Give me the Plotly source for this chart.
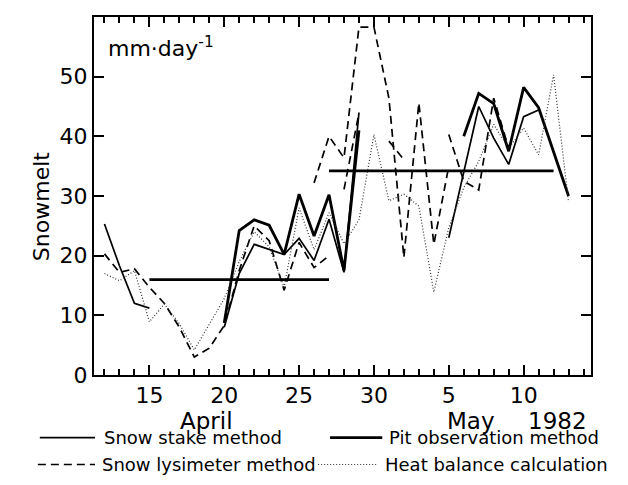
import plotly.graph_objects as go

# Day numbers: April days as-is, May d -> 30 + d
stake1_days = [12, 13, 14, 15]
stake1_vals = [25.3, 18.3, 12.0, 11.2]
stake2_days = [20, 21, 22, 23, 24, 25, 26, 27, 28, 29]
stake2_vals = [8.0, 17.0, 21.9, 21.1, 20.2, 22.9, 19.2, 26.1, 17.2, 44.0]
stake3_days = [35, 37, 38, 39, 40, 41]
stake3_vals = [23.0, 45.0, 39.7, 35.3, 43.3, 44.4]

pit1_days = [20, 21, 22, 23, 24, 25, 26, 27, 28, 29]
pit1_vals = [8.7, 24.2, 26.0, 25.1, 20.2, 30.3, 23.3, 30.2, 17.5, 41.0]
pit2_days = [36, 37, 38, 39, 40, 41, 43]
pit2_vals = [40.0, 47.2, 45.5, 37.5, 48.2, 44.8, 30.0]

lys1_days = [12, 13, 14, 15, 16, 17, 18, 19, 20, 21, 22, 23, 24, 25, 26, 27]
lys1_vals = [20.3, 17.2, 17.8, 14.7, 12.0, 8.0, 3.0, 4.5, 8.3, 17.5, 25.0, 22.5, 14.2, 22.2, 18.0, 20.0]
lys2_days = [26, 27, 28, 29, 30, 31, 32, 33, 34, 35]
lys2_vals = [32.2, 40.0, 36.4, 58.3, 58.3, 46.4, 19.7, 45.6, 21.9, 35.0]
lys3_days = [28, 29]
lys3_vals = [31.1, 43.9]
lys4_days = [31, 32]
lys4_vals = [39.2, 36.1]
lys5_days = [35, 36, 37, 38, 39]
lys5_vals = [40.3, 32.5, 31.0, 46.4, 38.0]

heat_days = [12, 13, 14, 15, 16, 17, 18, 19, 20, 21, 22, 23, 24, 25, 26, 27,
             28, 29, 30, 31, 32, 33, 34, 35, 36, 37, 38, 39, 40, 41, 42, 43]
heat_vals = [17.0, 15.8, 17.5, 8.9, 11.9, 8.6, 4.2, 8.5, 12.8, 19.0, 24.0, 21.5,
             14.7, 28.0, 21.0, 27.2, 22.0, 26.0, 40.3, 29.2, 30.3, 28.3, 13.9, 24.7,
             31.4, 35.8, 42.0, 38.0, 41.4, 36.9, 50.3, 29.0]

period_start = [15, 27]
period_end = [27, 42]
period_mean = [16.0, 34.2]

tick_days = [15, 20, 25, 30, 35, 40]
tick_text = ["15", "20", "25", "30", "5", "10"]
x_range = [11.3, 44.5]

legend_names = ["Snow stake method", "Pit observation method",
                "Snow lysimeter method", "Heat balance calculation"]

FONT = "DejaVu Sans"
DASH = "8px,5px"
STYLE = {
    "Snow stake method": dict(color="black", width=1.7, dash="solid"),
    "Pit observation method": dict(color="black", width=2.8, dash="solid"),
    "Snow lysimeter method": dict(color="black", width=1.7, dash=DASH),
    "Heat balance calculation": dict(color="#333333", width=1.2, dash="1px,2px"),
}
fig = go.Figure()

def seg(days, vals, name):
    fig.add_trace(go.Scatter(x=days, y=vals, mode="lines", name=name,
                             showlegend=False, line=STYLE[name]))

seg(stake1_days, stake1_vals, "Snow stake method")
seg(stake2_days, stake2_vals, "Snow stake method")
seg(stake3_days, stake3_vals, "Snow stake method")
seg(pit1_days, pit1_vals, "Pit observation method")
seg(pit2_days, pit2_vals, "Pit observation method")
for d, v in [(lys1_days, lys1_vals), (lys2_days, lys2_vals), (lys3_days, lys3_vals),
             (lys4_days, lys4_vals), (lys5_days, lys5_vals)]:
    seg(d, v, "Snow lysimeter method")
seg(heat_days, heat_vals, "Heat balance calculation")

for s, e, m in zip(period_start, period_end, period_mean):
    fig.add_trace(go.Scatter(x=[s, e], y=[m, m], mode="lines", showlegend=False,
                             line=dict(color="black", width=2.8)))

# page is drawn with an 8px body margin, so the figure is 620x477
fig.update_layout(
    width=620, height=477,
    margin=dict(l=86, r=37, t=7, b=110),
    paper_bgcolor="white", plot_bgcolor="white",
    font=dict(family=FONT, color="black"),
    showlegend=False,
)
fig.update_xaxes(range=x_range, tickvals=tick_days, ticktext=tick_text,
                 ticks="inside", ticklen=10, tickwidth=2, tickcolor="black",
                 showline=True, linecolor="black", linewidth=2, mirror="allticks",
                 showgrid=False, zeroline=False,
                 tickfont=dict(size=22, family=FONT),
                 minor=dict(dtick=1, tick0=0, ticks="inside", ticklen=6, tickwidth=1.5,
                            tickcolor="black", showgrid=False))
fig.update_yaxes(range=[0, 60], tickvals=[0, 10, 20, 30, 40, 50],
                 ticks="inside", ticklen=10, tickwidth=2, tickcolor="black",
                 showline=True, linecolor="black", linewidth=2, mirror="allticks",
                 showgrid=False, zeroline=False,
                 tickfont=dict(size=22, family=FONT))

# key below the plot: 2 x 2 (sample line + label)
key_x0 = [-0.109, 0.475, -0.113, 0.451]
key_x1 = [0.002, 0.580, 0.002, 0.571]
key_tx = [0.016, 0.590, 0.012, 0.582]
key_y = [-0.175, -0.175, -0.25, -0.25]
for name, x0, x1, tx, y in zip(legend_names, key_x0, key_x1, key_tx, key_y):
    fig.add_shape(type="line", xref="paper", yref="paper", x0=x0, x1=x1, y0=y, y1=y,
                  line=STYLE[name])
    fig.add_annotation(text=name, xref="paper", yref="paper", x=tx, y=y,
                       xanchor="left", yanchor="middle", showarrow=False,
                       font=dict(size=18, family=FONT))

fig.add_annotation(text="mm·day<sup>-1</sup>", xref="paper", yref="paper",
                   x=0.024, y=0.917, xanchor="left", yanchor="middle", showarrow=False,
                   font=dict(size=22, family=FONT))
fig.add_annotation(text="Snowmelt", xref="paper", yref="paper", x=-0.135, y=0.47,
                   textangle=-90, showarrow=False, font=dict(size=22, family=FONT))
fig.add_annotation(text="April", xref="paper", yref="paper", x=0.227, y=-0.128,
                   xanchor="center", yanchor="middle", showarrow=False, font=dict(size=23, family=FONT))
fig.add_annotation(text="May", xref="paper", yref="paper", x=0.759, y=-0.128,
                   xanchor="center", yanchor="middle", showarrow=False, font=dict(size=23, family=FONT))
fig.add_annotation(text="1982", xref="paper", yref="paper", x=0.995, xanchor="right",
                   y=-0.128, yanchor="middle", showarrow=False, font=dict(size=23, family=FONT))

fig.write_html("out.html")
